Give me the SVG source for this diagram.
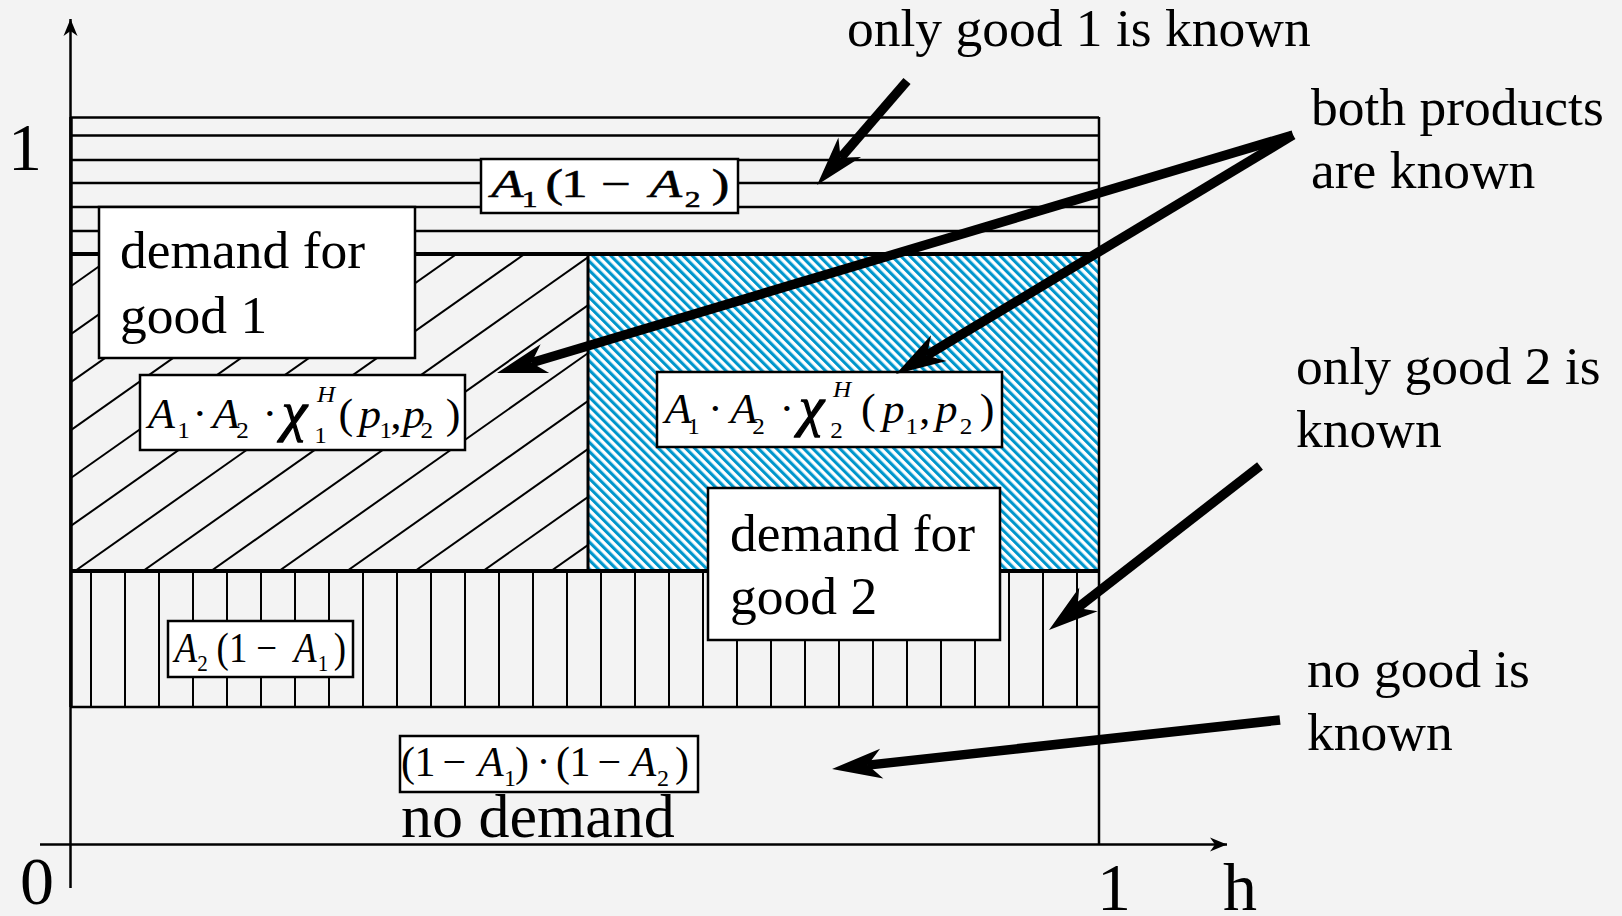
<svg xmlns="http://www.w3.org/2000/svg" width="1622" height="916" viewBox="0 0 1622 916">
<style>
.lbl{font-family:"Liberation Serif","Times New Roman",serif;font-size:53.5px;fill:#000}
.big{font-family:"Liberation Serif","Times New Roman",serif;font-size:68px;fill:#000}
.fm{font-family:"Liberation Serif","Times New Roman",serif;fill:#000}
.it{font-style:italic}
.sb{font-size:24px;font-style:normal}
.ch{font-style:italic;font-size:54px;stroke:#000;stroke-width:1.3}
.box{fill:#fff;stroke:#000;stroke-width:2.5}
.hl{stroke:#000;stroke-width:2.6}
.dl{stroke:#000;stroke-width:2}
.vl{stroke:#000;stroke-width:2}
.thick{stroke:#000;stroke-width:4}
.axis{stroke:#000;stroke-width:2.5;fill:none}
.arr{stroke:#000;stroke-width:9.5;fill:none;marker-end:url(#stealth)}
</style>
<defs>
<marker id="stealth" markerUnits="userSpaceOnUse" markerWidth="60" markerHeight="40" viewBox="-20 -20 60 40" refX="0" refY="0" orient="auto" overflow="visible">
<path d="M36,0 L-14,-15 L0,0 L-14,15 Z" fill="#000"/>
</marker>
<marker id="axhead" markerUnits="userSpaceOnUse" markerWidth="20" markerHeight="20" viewBox="-18 -10 20 20" refX="0" refY="0" orient="auto" overflow="visible">
<path d="M0,0 L-17,-7 L-12,0 L-17,7 Z" fill="#000"/>
</marker>
<pattern id="blueHatch" patternUnits="userSpaceOnUse" width="6.4" height="6.4" patternTransform="rotate(-45)">
<rect width="6.4" height="6.4" fill="#fff"/>
<rect width="3.1" height="6.4" fill="#0096cc"/>
</pattern>
<clipPath id="leftClip"><rect x="70" y="254" width="518" height="317"/></clipPath>
</defs>

<rect width="1622" height="916" fill="#f3f3f3"/>

<g id="region-top">
<line class="hl" x1="70" y1="117.5" x2="1099" y2="117.5"/>
<line class="hl" x1="70" y1="135.5" x2="1099" y2="135.5"/>
<line class="hl" x1="70" y1="160" x2="1099" y2="160"/>
<line class="hl" x1="70" y1="183" x2="1099" y2="183"/>
<line class="hl" x1="70" y1="207" x2="1099" y2="207"/>
<line class="hl" x1="70" y1="231" x2="1099" y2="231"/>
</g>

<g id="region-left" clip-path="url(#leftClip)">
<line class="dl" x1="-333" y1="571" x2="116.6" y2="254"/>
<line class="dl" x1="-265" y1="571" x2="184.6" y2="254"/>
<line class="dl" x1="-197" y1="571" x2="252.6" y2="254"/>
<line class="dl" x1="-129" y1="571" x2="320.6" y2="254"/>
<line class="dl" x1="-61" y1="571" x2="388.6" y2="254"/>
<line class="dl" x1="7" y1="571" x2="456.6" y2="254"/>
<line class="dl" x1="75" y1="571" x2="524.6" y2="254"/>
<line class="dl" x1="143" y1="571" x2="592.6" y2="254"/>
<line class="dl" x1="211" y1="571" x2="660.6" y2="254"/>
<line class="dl" x1="279" y1="571" x2="728.6" y2="254"/>
<line class="dl" x1="347" y1="571" x2="796.6" y2="254"/>
<line class="dl" x1="415" y1="571" x2="864.6" y2="254"/>
<line class="dl" x1="483" y1="571" x2="932.6" y2="254"/>
<line class="dl" x1="551" y1="571" x2="1000.6" y2="254"/>
</g>

<g id="region-blue">
<rect x="588" y="255" width="510" height="315" fill="url(#blueHatch)"/>
<line x1="588" y1="254" x2="588" y2="571" stroke="#000" stroke-width="3"/>
</g>

<g id="region-vertical">
<line class="vl" x1="91" y1="571" x2="91" y2="707"/>
<line class="vl" x1="125" y1="571" x2="125" y2="707"/>
<line class="vl" x1="159" y1="571" x2="159" y2="707"/>
<line class="vl" x1="193" y1="571" x2="193" y2="707"/>
<line class="vl" x1="227" y1="571" x2="227" y2="707"/>
<line class="vl" x1="261" y1="571" x2="261" y2="707"/>
<line class="vl" x1="295" y1="571" x2="295" y2="707"/>
<line class="vl" x1="329" y1="571" x2="329" y2="707"/>
<line class="vl" x1="363" y1="571" x2="363" y2="707"/>
<line class="vl" x1="397" y1="571" x2="397" y2="707"/>
<line class="vl" x1="431" y1="571" x2="431" y2="707"/>
<line class="vl" x1="465" y1="571" x2="465" y2="707"/>
<line class="vl" x1="499" y1="571" x2="499" y2="707"/>
<line class="vl" x1="533" y1="571" x2="533" y2="707"/>
<line class="vl" x1="567" y1="571" x2="567" y2="707"/>
<line class="vl" x1="601" y1="571" x2="601" y2="707"/>
<line class="vl" x1="635" y1="571" x2="635" y2="707"/>
<line class="vl" x1="669" y1="571" x2="669" y2="707"/>
<line class="vl" x1="703" y1="571" x2="703" y2="707"/>
<line class="vl" x1="737" y1="571" x2="737" y2="707"/>
<line class="vl" x1="771" y1="571" x2="771" y2="707"/>
<line class="vl" x1="805" y1="571" x2="805" y2="707"/>
<line class="vl" x1="839" y1="571" x2="839" y2="707"/>
<line class="vl" x1="873" y1="571" x2="873" y2="707"/>
<line class="vl" x1="907" y1="571" x2="907" y2="707"/>
<line class="vl" x1="941" y1="571" x2="941" y2="707"/>
<line class="vl" x1="975" y1="571" x2="975" y2="707"/>
<line class="vl" x1="1009" y1="571" x2="1009" y2="707"/>
<line class="vl" x1="1043" y1="571" x2="1043" y2="707"/>
<line class="vl" x1="1077" y1="571" x2="1077" y2="707"/>
<line class="hl" x1="70" y1="707" x2="1099" y2="707"/>
</g>

<g id="borders">
<line class="thick" x1="70" y1="254" x2="1099" y2="254"/>
<line class="thick" x1="70" y1="571" x2="1099" y2="571"/>
<line x1="71" y1="117" x2="71" y2="707" stroke="#000" stroke-width="3.5"/>
<line x1="1099" y1="117" x2="1099" y2="845" stroke="#000" stroke-width="2.5"/>
</g>

<g id="axes">
<line class="axis" x1="70.5" y1="888" x2="70.5" y2="19" marker-end="url(#axhead)"/>
<line class="axis" x1="40" y1="844.5" x2="1227" y2="844.5" marker-end="url(#axhead)"/>
<text class="big" x="25" y="170" text-anchor="middle">1</text>
<text class="big" x="37" y="904" text-anchor="middle">0</text>
<text class="big" x="1114" y="910" text-anchor="middle">1</text>
<text class="big" x="1240" y="910" text-anchor="middle">h</text>
</g>

<g id="node-formula-top">
<rect class="box" x="481" y="159" width="257" height="54"/>
<text class="fm" font-size="40" transform="translate(490,0) scale(1.32,1)" stroke="#000" stroke-width="0.6"><tspan class="it" x="1" y="197">A</tspan><tspan class="sb" x="24" y="207">1</tspan><tspan x="42" y="197">(</tspan><tspan x="54" y="197">1</tspan><tspan x="84" y="197">−</tspan><tspan class="it" x="121" y="197">A</tspan><tspan class="sb" x="147.5" y="207">2</tspan><tspan x="168" y="197">)</tspan></text>
</g>

<g id="node-demand1">
<rect class="box" x="99" y="207" width="316" height="151"/>
<text class="lbl" x="120" y="268">demand for</text>
<text class="lbl" x="120" y="333">good 1</text>
</g>

<g id="node-formula-left">
<rect class="box" x="140" y="375" width="325" height="75"/>
<text class="fm" font-size="42" transform="translate(147,0) scale(1.05,1)"><tspan class="it" x="1" y="428">A</tspan><tspan class="sb" x="28.8" y="438">1</tspan><tspan x="43.3" y="428">·</tspan><tspan class="it" x="62.5" y="428">A</tspan><tspan class="sb" x="85" y="438">2</tspan><tspan x="110" y="428">·</tspan><tspan class="ch" x="128.5" y="430">χ</tspan><tspan class="sb" x="159.3" y="443">1</tspan><tspan class="it" font-size="24" x="161.9" y="402">H</tspan><tspan x="182.5" y="428">(</tspan><tspan class="it" x="202" y="428">p</tspan><tspan class="sb" x="221.5" y="438">1</tspan><tspan x="232" y="428">,</tspan><tspan class="it" x="243.5" y="428">p</tspan><tspan class="sb" x="260.5" y="438">2</tspan><tspan x="284.5" y="428">)</tspan></text>
</g>

<g id="node-formula-right">
<rect class="box" x="657" y="372" width="345" height="75"/>
<text class="fm" font-size="42" transform="translate(663.6,0) scale(1.05,1)"><tspan class="it" x="1" y="423">A</tspan><tspan class="sb" x="22.5" y="434">1</tspan><tspan x="42.4" y="423">·</tspan><tspan class="it" x="63.5" y="423">A</tspan><tspan class="sb" x="84.5" y="434">2</tspan><tspan x="110.4" y="423">·</tspan><tspan class="ch" x="129" y="425">χ</tspan><tspan class="sb" x="158.7" y="438">2</tspan><tspan class="it" font-size="24" x="161.3" y="397">H</tspan><tspan x="188" y="423">(</tspan><tspan class="it" x="208.5" y="423">p</tspan><tspan class="sb" x="230.5" y="434">1</tspan><tspan x="243.5" y="423">,</tspan><tspan class="it" x="259" y="423">p</tspan><tspan class="sb" x="282" y="434">2</tspan><tspan x="301" y="423">)</tspan></text>
</g>

<g id="node-demand2">
<rect class="box" x="708" y="488" width="292" height="152"/>
<text class="lbl" x="730" y="551">demand for</text>
<text class="lbl" x="730" y="614">good 2</text>
</g>

<g id="node-formula-a2">
<rect class="box" x="168" y="621" width="185" height="56"/>
<text class="fm" font-size="42" transform="translate(173.5,0) scale(0.88,1)"><tspan class="it" x="1" y="662">A</tspan><tspan class="sb" x="27" y="671">2</tspan><tspan x="49" y="662">(</tspan><tspan x="63" y="662">1</tspan><tspan x="94" y="662">−</tspan><tspan class="it" x="137" y="662">A</tspan><tspan class="sb" x="164" y="671">1</tspan><tspan x="182" y="662">)</tspan></text>
</g>

<g id="node-formula-none">
<rect class="box" x="400" y="736" width="298" height="56"/>
<text class="fm" font-size="42"><tspan x="401" y="776">(</tspan><tspan x="414.5" y="776">1</tspan><tspan x="442.5" y="776">−</tspan><tspan class="it" x="478" y="776">A</tspan><tspan class="sb" x="504" y="786">1</tspan><tspan x="515" y="776">)</tspan><tspan x="536.5" y="776">·</tspan><tspan x="556" y="776">(</tspan><tspan x="569.5" y="776">1</tspan><tspan x="597.6" y="776">−</tspan><tspan class="it" x="630.5" y="776">A</tspan><tspan class="sb" x="657" y="786">2</tspan><tspan x="675" y="776">)</tspan></text>
<text class="lbl" x="401" y="837" style="font-size:62px">no demand</text>
</g>

<g id="node-labels">
<text class="lbl" x="847" y="46">only good 1 is known</text>
<text class="lbl" x="1311" y="125">both products</text>
<text class="lbl" x="1311" y="188">are known</text>
<text class="lbl" x="1296" y="384">only good 2 is</text>
<text class="lbl" x="1296" y="447">known</text>
<text class="lbl" x="1307" y="687">no good is</text>
<text class="lbl" x="1307" y="750">known</text>
</g>

<g id="connectors">
<path class="arr" d="M907,81 L840.6,157.8"/>
<path class="arr" d="M1293,135 L531.5,362.7"/>
<path class="arr" d="M1293,135 L926.8,355.4"/>
<path class="arr" d="M1260,466 L1077.4,607.9"/>
<path class="arr" d="M1280,720 L867.8,765.1"/>
</g>
</svg>
